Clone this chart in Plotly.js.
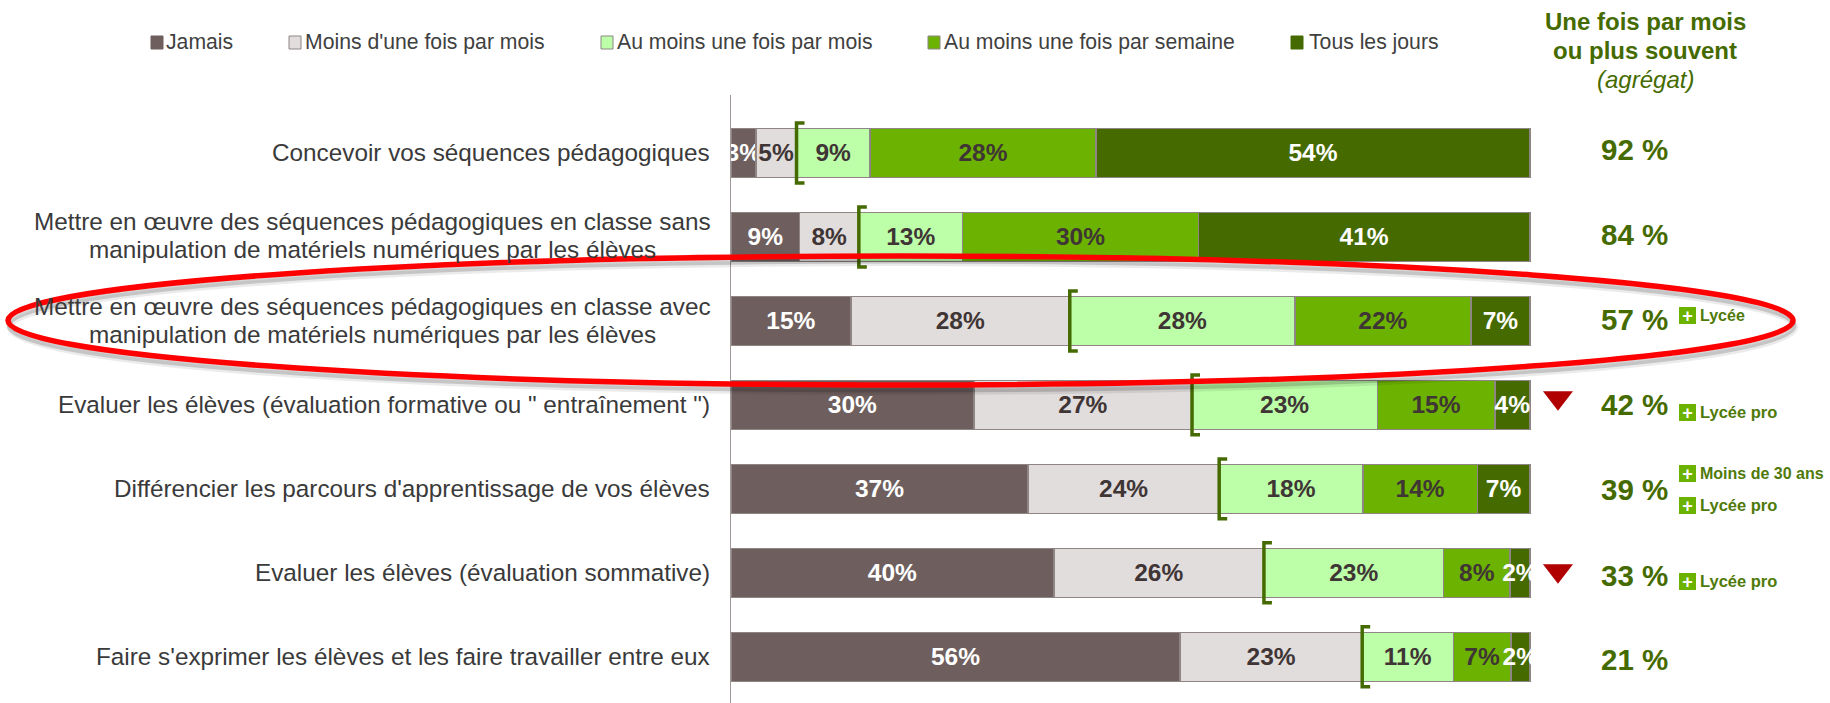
<!DOCTYPE html>
<html><head><meta charset="utf-8">
<script src="https://cdn.plot.ly/plotly-3.0.1.min.js"></script>
<style>html,body{margin:0;padding:0;background:#fff}#c{width:1830px;height:703px}</style>
</head><body><div id="c"></div>
<script>
const categories = [
  "Concevoir vos séquences pédagogiques",
  "Mettre en œuvre des séquences pédagogiques en classe sans<br>manipulation de matériels numériques par les élèves",
  "Mettre en œuvre des séquences pédagogiques en classe avec<br>manipulation de matériels numériques par les élèves",
  "Evaluer les élèves (évaluation formative ou \" entraînement \")",
  "Différencier les parcours d'apprentissage de vos élèves",
  "Evaluer les élèves (évaluation sommative)",
  "Faire s'exprimer les élèves et les faire travailler entre eux"
];
const seriesNames = ["Jamais","Moins d'une fois par mois","Au moins une fois par mois","Au moins une fois par semaine","Tous les jours"];
const jamais   = [3.1, 8.6, 15.0, 30.4, 37.2, 40.4, 56.2];
const moins    = [5.1, 7.4, 27.4, 27.3, 23.9, 26.3, 22.8];
const auMoins  = [9.2, 13.0, 28.2, 23.2, 18.0, 22.5, 11.4];
const semaine  = [28.3, 29.5, 22.0, 14.7, 14.3, 8.3, 7.2];
const tous     = [54.3, 41.5, 7.4, 4.4, 6.6, 2.5, 2.4];
const jamaisLabels  = ["3%","9%","15%","30%","37%","40%","56%"];
const moinsLabels   = ["5%","8%","28%","27%","24%","26%","23%"];
const auMoinsLabels = ["9%","13%","28%","23%","18%","23%","11%"];
const semaineLabels = ["28%","30%","22%","15%","14%","8%","7%"];
const tousLabels    = ["54%","41%","7%","4%","7%","2%","2%"];
const aggregate = ["92 %","84 %","57 %","42 %","39 %","33 %","21 %"];
const aggregateY = [149,234,319,404,489,575,659];
const downRows = [3,5];
const downOffsets = [-0.085,-0.025];
const tags = [
  {text:"Lycée", y:315, size:16},
  {text:"Lycée pro", y:412, size:16.5},
  {text:"Moins de 30 ans", y:473, size:16},
  {text:"Lycée pro", y:505, size:16.5},
  {text:"Lycée pro", y:581, size:16.5}
];
const colors = ["#6e5f5e","#e2dddd","#bcffa8","#6cb200","#456b00"];
const textColors = ["#ffffff","#3f3535","#3f3535","#3f3535","#ffffff"];
const legendX = [151,289,601,928,1291];
const legendTextX = [166,305,617,944,1309];
const DARK="#456b00";

const L=731,T=95,W=1830,H=703,PW=W-L,PH=H-T;
const px=v=>(v-L)/PW, py=v=>1-(v-T)/PH;
const rows=categories.map((_,i)=>i);
const vals=[jamais,moins,auMoins,semaine,tous];
const labs=[jamaisLabels,moinsLabels,auMoinsLabels,semaineLabels,tousLabels];

const traces=vals.map((v,k)=>({
  type:"bar",orientation:"h",name:seriesNames[k],x:v,y:rows,
  text:labs[k],textposition:"inside",insidetextanchor:"middle",constraintext:"none",textangle:0,
  cliponaxis:false,
  textfont:{family:"Liberation Sans",size:24.5,color:textColors[k],weight:700},
  marker:{color:colors[k],line:{color:"#8f8585",width:1.5}},
  showlegend:false,hoverinfo:"name+x"
}));

const bx=[],by=[];
rows.forEach(i=>{const b=jamais[i]+moins[i];
  bx.push(b+1,b,b,b+1,null);by.push(i-0.357,i-0.357,i+0.357,i+0.357,null);});
traces.push({type:"scatter",mode:"lines",x:bx,y:by,line:{color:DARK,width:3.5},showlegend:false,hoverinfo:"skip",cliponaxis:false});
traces.push({type:"scatter",mode:"markers",x:downRows.map(()=>103.5),y:downRows.map((r,i)=>r+downOffsets[i]),
  marker:{symbol:"triangle-down",size:26,color:"#b00000"},showlegend:false,hoverinfo:"skip",cliponaxis:false});

const ann=[];const F="Liberation Sans";
function T1(text,x,y,size,color,anchor,extra){ann.push(Object.assign({xref:"paper",yref:"paper",x:px(x),y:py(y),text,showarrow:false,xanchor:anchor,yanchor:"middle",
  font:{family:F,size,color},borderpad:0,borderwidth:0},extra||{}));}
const rowY=[152,236,320,404,488,572,656];
categories.forEach((c,i)=>{
  const parts=c.split("<br>");
  if(parts.length==1) T1(c,710,rowY[i],24.3,"#3a3a3a","right");
  else parts.forEach((p,j)=>T1(p,372,rowY[i]+(j==0?-14:14),24.3,"#3a3a3a","center"));
});
aggregate.forEach((a,i)=>T1("<b>"+a+"</b>",1634,aggregateY[i],29.5,DARK,"center"));
T1("<b>Une fois par mois</b>",1645,22,24,DARK,"center");
T1("<b>ou plus souvent</b>",1645,51,24,DARK,"center");
T1("<i>(agrégat)</i>",1645,80,24,DARK,"center");
seriesNames.forEach((n,i)=>T1(n,legendTextX[i],42,21.2,"#404040","left"));
tags.forEach(t=>{
  T1("<b>"+t.text+"</b>",1700,t.y,t.size,"#4f7a0a","left");
  T1("<b>+</b>",1687,t.y,18,"#ffffff","center",{bgcolor:"#6cb200",width:17,height:17,align:"center"});
});

const shapes=legendX.map((x,i)=>({type:"rect",xref:"paper",yref:"paper",x0:px(x),x1:px(x+12),y0:py(36),y1:py(49),
  fillcolor:colors[i],line:{color:i==0||i==4?colors[i]:"#8f8585",width:1}}));
function ell(dx,dy,color,width){return {type:"circle",xref:"paper",yref:"paper",x0:px(8+dx),x1:px(1793+dx),y0:py(385+dy),y1:py(256+dy),
  line:{color,width},fillcolor:"rgba(0,0,0,0)",layer:"above"};}
shapes.push(ell(2,7,"rgba(0,0,0,0.08)",6),ell(1,5,"rgba(0,0,0,0.16)",5),ell(0,0,"#ff0000",5.5));

Plotly.newPlot("c",traces,{
  width:W,height:H,margin:{l:L,r:0,t:T,b:0,pad:0},
  paper_bgcolor:"#fff",plot_bgcolor:"#fff",
  barmode:"stack",bargap:0.417,showlegend:false,
  xaxis:{range:[0,PW/7.99],visible:false,fixedrange:true},
  yaxis:{range:[6.55,-0.69],showticklabels:false,ticks:"",showgrid:false,zeroline:false,showline:true,linecolor:"#a09898",linewidth:1.5,fixedrange:true},
  annotations:ann,shapes:shapes
},{displayModeBar:false,staticPlot:true});
</script></body></html>
